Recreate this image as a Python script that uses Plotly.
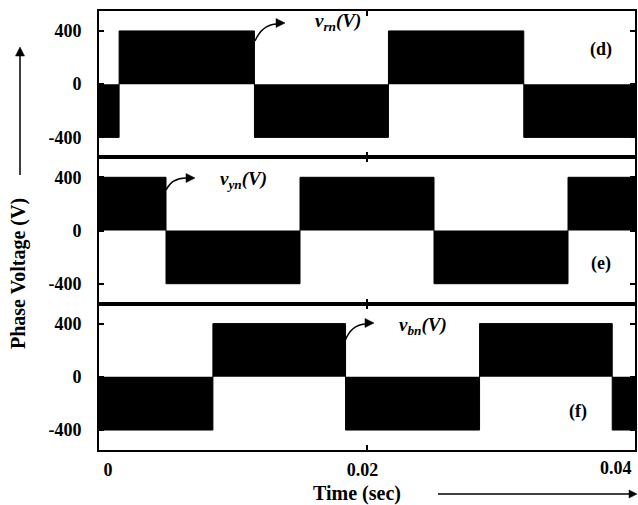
import plotly.graph_objects as go
from plotly.subplots import make_subplots

# ---- data ----
t_rn = [0.0, 0.0015, 0.0116, 0.0216, 0.0317, 0.04]
v_rn = [-400, 400, -400, 400, -400, -400]
t_yn = [0.0, 0.0050, 0.0150, 0.0250, 0.0350, 0.04]
v_yn = [400, -400, 400, -400, 400, 400]
t_bn = [0.0, 0.0085, 0.0184, 0.0284, 0.0383, 0.04]
v_bn = [-400, 400, -400, 400, -400, -400]
x_ticks = [0, 0.02, 0.04]
x_ticktext = ["0", "0.02", "0.04"]
y_ticks = [-400, 0, 400]
y_ticktext = ["-400", "0", "400"]
panel_labels = ["(d)", "(e)", "(f)"]
series_labels = ["v<sub>rn</sub>(V)", "v<sub>yn</sub>(V)", "v<sub>bn</sub>(V)"]

W, H = 638, 505
# plot-area edges in window pixels
L, R, T, B = 99, 635, 11, 450
FONT = "Liberation Serif, Times New Roman, serif"
NB = "&nbsp;"

def px(x):
    return (x - L) / (R - L)

def py(y):
    return (B - y) / (B - T)

# x tick labels: first padded to sit where the reference places it,
# last one drawn as a right-aligned note so it stays inside the window
x_ticktext_axis = [NB * 4 + x_ticktext[0], x_ticktext[1] + NB * 2, ""]

fig = make_subplots(rows=3, cols=1, shared_xaxes=True, vertical_spacing=0)

for i, (t, v) in enumerate([(t_rn, v_rn), (t_yn, v_yn), (t_bn, v_bn)]):
    fig.add_trace(go.Scatter(x=t, y=v, mode="lines", line_shape="hv",
                             line=dict(color="black", width=1),
                             fill="tozeroy", fillcolor="black",
                             showlegend=False, hoverinfo="skip"),
                  row=i + 1, col=1)
    fig.update_yaxes(range=[-550, 550], tickvals=y_ticks, ticktext=y_ticktext,
                     ticks="inside", ticklen=5, tickwidth=1.5, tickcolor="black",
                     showline=True, linecolor="black", linewidth=2, mirror="ticks",
                     showgrid=False, zeroline=False, automargin=False,
                     tickfont=dict(family=FONT, size=18, color="black", weight="bold"),
                     ticklabelstandoff=12,
                     row=i + 1, col=1)
    fig.update_xaxes(range=[0, 0.04], tickvals=x_ticks, ticktext=x_ticktext_axis,
                     ticks="inside", ticklen=5, tickwidth=1.5, tickcolor="black",
                     showline=True, linecolor="black", linewidth=2, mirror="ticks",
                     showgrid=False, zeroline=False, automargin=False,
                     tickfont=dict(family=FONT, size=18, color="black", weight="bold"),
                     ticklabelstandoff=2,
                     row=i + 1, col=1)

shapes = []
annos = []

# last x tick label
annos.append(dict(text=f"<b>{x_ticktext[2]}</b>", x=x_ticks[2], xref="x3", xanchor="right", xshift=-1,
                  y=py(456), yref="paper", yanchor="top", showarrow=False,
                  font=dict(family=FONT, size=18, color="black")))

def tri_right(x, y, ln=9, hw=4.5):
    return dict(type="path", xref="paper", yref="paper",
                path=f"M {px(x)} {py(y)} L {px(x-ln)} {py(y-hw)} L {px(x-ln)} {py(y+hw)} Z",
                fillcolor="black", line=dict(color="black", width=0.5))

def curve(x0, y0, cx, cy, x1, y1):
    return dict(type="path", xref="paper", yref="paper",
                path=f"M {px(x0)} {py(y0)} Q {px(cx)} {py(cy)} {px(x1)} {py(y1)}",
                line=dict(color="black", width=1.5))

# curved pointer arrows (start, control, end, head tip)
arrows = [
    ((255, 41), (262, 25), (276, 24), (285, 23)),
    ((166, 190), (172, 178), (186, 178), (195, 178)),
    ((345, 341), (351, 325), (365, 324), (374, 323)),
]
for (s, c, e, h) in arrows:
    shapes.append(curve(s[0], s[1], c[0], c[1], e[0], e[1]))
    shapes.append(tri_right(h[0], h[1]))

# series labels
label_pos = [(338, 22), (243, 180), (423, 326)]
for lab, (x, y) in zip(series_labels, label_pos):
    annos.append(dict(text=f"<b><i>{lab}</i></b>", x=px(x), y=py(y), xref="paper", yref="paper",
                      showarrow=False, xanchor="center", yanchor="middle",
                      font=dict(family=FONT, size=19, color="black")))

# panel labels
panel_pos = [(601, 49), (601, 263), (578, 411)]
for lab, (x, y) in zip(panel_labels, panel_pos):
    annos.append(dict(text=f"<b>{lab}</b>", x=px(x), y=py(y), xref="paper", yref="paper",
                      showarrow=False, xanchor="center", yanchor="middle",
                      font=dict(family=FONT, size=18, color="black")))

# axis titles
annos.append(dict(text="<b>Phase Voltage (V)</b>", x=px(18), y=py(274), xref="paper", yref="paper",
                  showarrow=False, textangle=-90, xanchor="center", yanchor="middle",
                  font=dict(family=FONT, size=20, color="black")))
annos.append(dict(text="<b>Time (sec)</b>", x=px(357), y=py(494), xref="paper", yref="paper",
                  showarrow=False, xanchor="center", yanchor="middle",
                  font=dict(family=FONT, size=20, color="black")))

# big axis arrows
shapes.append(dict(type="line", xref="paper", yref="paper",
                   x0=px(20), y0=py(175), x1=px(20), y1=py(55),
                   line=dict(color="black", width=1.5)))
shapes.append(dict(type="path", xref="paper", yref="paper",
                   path=f"M {px(20)} {py(47)} L {px(15.5)} {py(56)} L {px(24.5)} {py(56)} Z",
                   fillcolor="black", line=dict(color="black", width=0.5)))
shapes.append(dict(type="line", xref="paper", yref="paper",
                   x0=px(438), y0=py(494), x1=px(630), y1=py(494),
                   line=dict(color="black", width=1.5)))
shapes.append(tri_right(637, 494, ln=8, hw=4))

fig.update_layout(width=W, height=H,
                  margin=dict(l=L, r=W - R, t=T, b=H - B),
                  plot_bgcolor="white", paper_bgcolor="white",
                  shapes=shapes, annotations=annos, showlegend=False)

fig.write_html("out.html", config={"displayModeBar": False},
               post_script="document.body.style.margin='0';document.body.style.overflow='hidden';")
